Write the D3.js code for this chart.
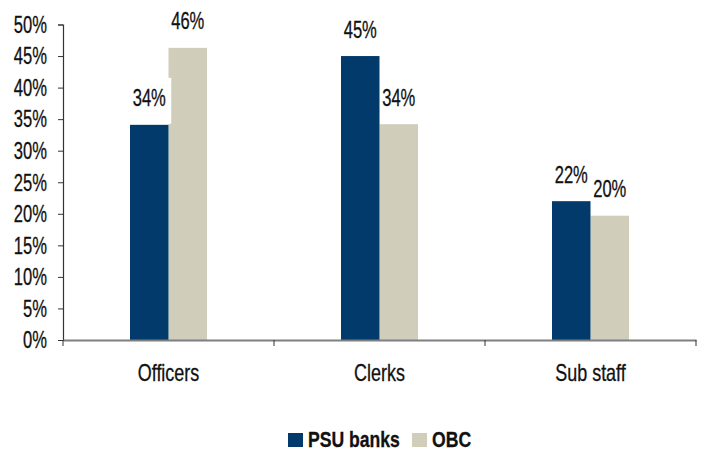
<!DOCTYPE html>
<html>
<head>
<meta charset="utf-8">
<script src="https://cdn.jsdelivr.net/npm/d3@7"></script>
<style>
  html, body { margin: 0; padding: 0; background: #fff; }
  svg text { font-family: "Liberation Sans", Arial, sans-serif; fill: #111; stroke: #111; stroke-width: 0.3px; }
</style>
</head>
<body>
<svg id="chart" width="703" height="450"></svg>
<script>
// Staff categories and the share held by each series (percent)
const categories = ["Officers", "Clerks", "Sub staff"];
const seriesNames = ["PSU banks", "OBC"];
const psuBanks = [34.1, 45.0, 22.0];
const obc = [46.3, 34.2, 19.7];
const yTicks = [0, 5, 10, 15, 20, 25, 30, 35, 40, 45, 50];

const colors = { "PSU banks": "#023a6b", "OBC": "#d0cdbb" };
const seriesValues = { "PSU banks": psuBanks, "OBC": obc };

const svg = d3.select("#chart");
const margin = { left: 63, top: 24.5 };
const plotBottom = 340;
const SX = 0.72;      // horizontal squeeze for a condensed look
const FS = 23;

const x = d3.scaleBand().domain(categories).range([margin.left, 696]).padding(0);
const xInner = d3.scaleBand().domain(seriesNames).range([0, 77]);
const y = d3.scaleLinear().domain([0, 50]).range([plotBottom, margin.top]);

const fmt = v => d3.format(".0f")(v) + "%";

// Append condensed text anchored at (px, py)
function ctext(parent, px, py, str, anchor, opts = {}) {
  const g = parent.append("g").attr("transform", `translate(${px},${py}) scale(${opts.sx || SX},1)`);
  const t = g.append("text")
    .attr("text-anchor", anchor)
    .attr("font-size", opts.size || FS)
    .text(str);
  if (opts.bold) t.attr("font-weight", "bold");
  if (opts.dy) t.attr("dy", opts.dy);
  return g;
}

const cx = (c, s) => x(c) + x.bandwidth() / 2 - xInner.range()[1] / 2 + xInner(s) + xInner.bandwidth() / 2;

// Bars and value labels; OBC layer first, PSU layer on top
const layers = ["OBC", "PSU banks"];
layers.forEach(s => {
  const layer = svg.append("g");
  const rows = categories.map((c, i) => ({ c, s, v: seriesValues[s][i] }));

  layer.selectAll("rect.bar")
    .data(rows)
    .join("rect")
    .attr("class", "bar")
    .attr("x", d => cx(d.c, s) - xInner.bandwidth() / 2)
    .attr("width", xInner.bandwidth())
    .attr("y", d => y(d.v))
    .attr("height", d => plotBottom - y(d.v))
    .attr("fill", colors[s]);

  layer.selectAll("rect.box")
    .data(rows)
    .join("rect")
    .attr("class", "box")
    .attr("x", d => cx(d.c, s) - 22)
    .attr("width", 44)
    .attr("y", d => y(d.v) - 47)
    .attr("height", 46)
    .attr("fill", "#fff");

  rows.forEach(d => ctext(layer, cx(d.c, s), y(d.v) - 18.5, fmt(d.v), "middle"));
});

// Y axis
const yAxis = d3.axisLeft(y).tickValues(yTicks).tickFormat("").tickSize(5);
const gy = svg.append("g").attr("transform", `translate(${margin.left},0)`).call(yAxis);
gy.select(".domain").attr("stroke", "#333").attr("stroke-width", 1.2);
gy.selectAll(".tick line").attr("stroke", "#333");
yTicks.forEach(t => ctext(svg, 47, y(t), t + "%", "end", { dy: "0.36em" }));

// X axis
const gx = svg.append("g").attr("transform", `translate(0,${plotBottom})`)
  .call(d3.axisBottom(x).tickSize(0).tickFormat(""));
gx.select(".domain").attr("stroke", "#7f7f7f").attr("stroke-width", 2);
gx.selectAll(".tick").remove();

// Category separators
const seps = [x.range()[0]].concat(categories.map(c => x(c) + x.bandwidth()));
svg.append("g").selectAll("line")
  .data(seps)
  .join("line")
  .attr("x1", d => d).attr("x2", d => d)
  .attr("y1", plotBottom).attr("y2", plotBottom + 6)
  .attr("stroke", "#333");

// Category labels
categories.forEach(c => ctext(svg, x(c) + x.bandwidth() / 2, 381, c, "middle", { sx: 0.78 }));

// Legend
const legendItems = [
  { s: "PSU banks", sx: 288, tx: 308 },
  { s: "OBC", sx: 412, tx: 432 }
];
const lg = svg.append("g");
lg.selectAll("rect")
  .data(legendItems)
  .join("rect")
  .attr("x", d => d.sx).attr("y", 433)
  .attr("width", 15).attr("height", 14)
  .attr("fill", d => colors[d.s]);
legendItems.forEach(d => ctext(lg, d.tx, 447, d.s, "start", { bold: true, size: 22, sx: 0.8 }));
</script>
</body>
</html>
